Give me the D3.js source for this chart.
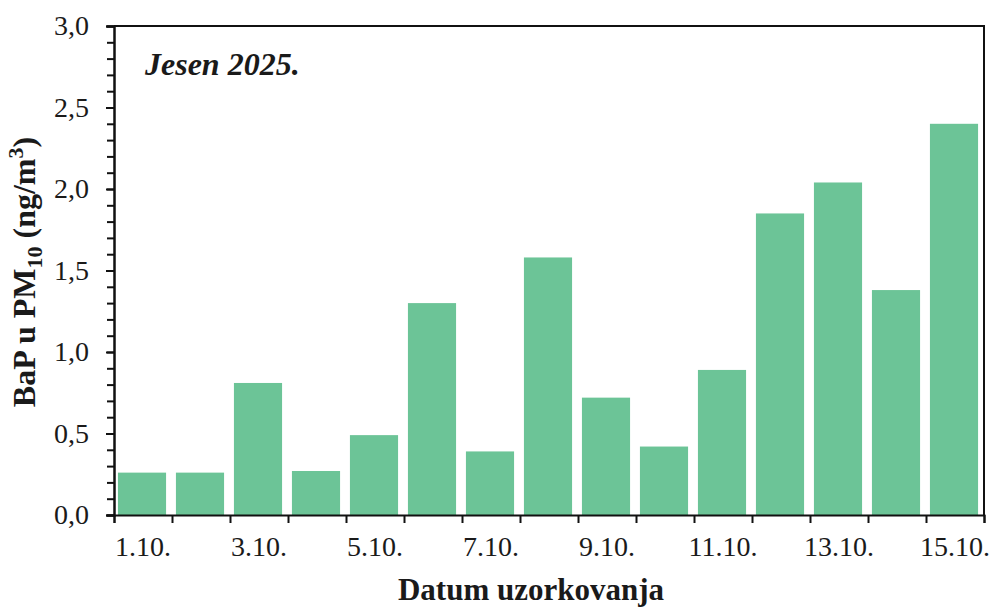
<!DOCTYPE html>
<html>
<head>
<meta charset="utf-8">
<script src="https://cdn.jsdelivr.net/npm/d3@7"></script>
<style>
  body { margin: 0; background: #fff; }
  text { font-family: "Liberation Serif", "DejaVu Serif", serif; fill: #1a1a1a; }
</style>
</head>
<body>
<script>
// BaP u PM10 - jesen 2025.

var days = ["1.10.", "2.10.", "3.10.", "4.10.", "5.10.", "6.10.", "7.10.", "8.10.",
            "9.10.", "10.10.", "11.10.", "12.10.", "13.10.", "14.10.", "15.10."];
var bapValues = [0.26, 0.26, 0.81, 0.27, 0.49, 1.30, 0.39, 1.58, 0.72, 0.42, 0.89, 1.85, 2.04, 1.38, 2.40];
var yTicks = [0, 0.5, 1.0, 1.5, 2.0, 2.5, 3.0];
var shownDays = ["1.10.", "3.10.", "5.10.", "7.10.", "9.10.", "11.10.", "13.10.", "15.10."];

var svgWidth = 995;
var svgHeight = 609;

var margin = { top: 26, right: 11, bottom: 94, left: 114 };
var chartWidth = svgWidth - margin.left - margin.right;
var chartHeight = svgHeight - margin.top - margin.bottom;

var svg = d3.select("body")
  .append("svg")
  .attr("width", svgWidth)
  .attr("height", svgHeight);

var chartGroup = svg.append("g")
  .attr("transform", `translate(${margin.left}, ${margin.top})`);

var xBandScale = d3.scaleBand()
  .domain(days)
  .range([0, chartWidth])
  .paddingInner(0.17)
  .paddingOuter(0.085);

var yLinearScale = d3.scaleLinear()
  .domain([0, 3])
  .range([chartHeight, 0]);

// bars
chartGroup.selectAll("rect.bar")
  .data(bapValues)
  .enter()
  .append("rect")
  .attr("class", "bar")
  .attr("x", (d, i) => xBandScale(days[i]) - 1)
  .attr("y", d => yLinearScale(d))
  .attr("width", xBandScale.bandwidth())
  .attr("height", d => chartHeight - yLinearScale(d))
  .attr("fill", "#6cc497");

// frame (top and right)
chartGroup.append("path")
  .attr("d", `M0,0H${chartWidth}V${chartHeight}`)
  .attr("fill", "none")
  .attr("stroke", "#111")
  .attr("stroke-width", 2);

// left axis: major ticks with labels + minor ticks every 0.1
var leftAxis = d3.axisLeft(yLinearScale)
  .tickValues(yTicks)
  .tickSize(8)
  .tickPadding(17)
  .tickFormat(d => d3.format(".1f")(d).replace(".", ","));

var minorLeft = d3.axisLeft(yLinearScale)
  .tickValues(d3.range(0, 31).map(d => d / 10))
  .tickSize(7)
  .tickFormat("");

chartGroup.append("g").call(minorLeft);
var yAxisG = chartGroup.append("g").call(leftAxis);

// bottom axis: ticks at category boundaries, labels every second day
var boundaryScale = d3.scaleLinear().domain([0, days.length]).range([0, chartWidth]);
var bottomTicks = d3.axisBottom(boundaryScale)
  .tickValues(d3.range(0, days.length + 1))
  .tickSize(8)
  .tickFormat("");
chartGroup.append("g")
  .attr("transform", `translate(0, ${chartHeight})`)
  .call(bottomTicks);

var bottomLabels = d3.axisBottom(xBandScale)
  .tickValues(shownDays)
  .tickSize(0)
  .tickPadding(21);
var xAxisG = chartGroup.append("g")
  .attr("transform", `translate(0, ${chartHeight})`)
  .call(bottomLabels);
xAxisG.select(".domain").remove();

chartGroup.selectAll(".domain, .tick line")
  .attr("stroke", "#111")
  .attr("stroke-width", 2);

chartGroup.selectAll(".tick text")
  .style("font-family", "'Liberation Serif', serif")
  .style("font-size", "28px")
  .attr("fill", "#1a1a1a");

// title inside chart
chartGroup.append("text")
  .attr("x", 31)
  .attr("y", 49)
  .style("font-size", "32px")
  .style("font-weight", "bold")
  .style("font-style", "italic")
  .text("Jesen 2025.");

// axis titles
svg.append("text")
  .attr("x", 531)
  .attr("y", 600)
  .style("text-anchor", "middle")
  .style("font-size", "31px")
  .style("font-weight", "bold")
  .text("Datum uzorkovanja");

var yTitle = svg.append("text")
  .attr("transform", "translate(35, 272) rotate(-90)")
  .style("text-anchor", "middle")
  .style("font-size", "32px")
  .style("font-weight", "bold");
yTitle.append("tspan").text("BaP u PM");
yTitle.append("tspan").attr("dy", 7).style("font-size", "22px").text("10");
yTitle.append("tspan").attr("dy", -7).text(" (ng/m");
yTitle.append("tspan").attr("dy", -12).style("font-size", "22px").text("3");
yTitle.append("tspan").attr("dy", 12).text(")");
</script>
</body>
</html>
